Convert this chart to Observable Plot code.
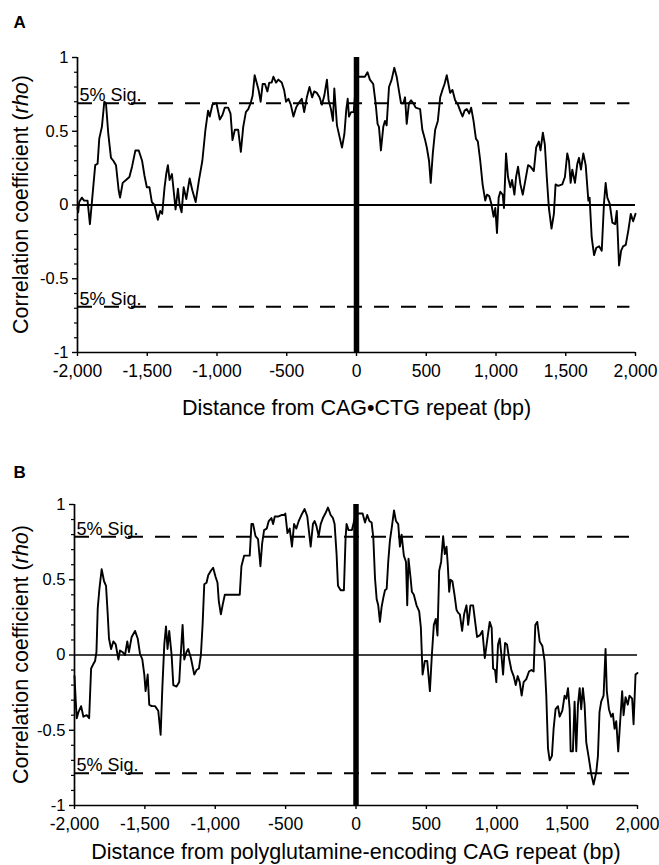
<!DOCTYPE html>
<html><head><meta charset="utf-8">
<script src="https://cdn.jsdelivr.net/npm/d3@7"></script>
<script src="https://cdn.jsdelivr.net/npm/@observablehq/plot@0.6"></script>
<style>
body{margin:0;background:#fff;width:659px;height:865px;overflow:hidden;font-family:"Liberation Sans",Arial,sans-serif}
#chart svg{display:block}
</style></head><body><div id="chart"></div>
<script>
const xTicks=[-2000,-1500,-1000,-500,0,500,1000,1500,2000];
const xTickLabels=["-2,000","-1,500","-1,000","-500","0","500","1,000","1,500","2,000"];
const yTicks=[-1,-0.5,0,0.5,1];
const yTickLabels=["-1","-0.5","0","0.5","1"];
const yMinorTicks=[-0.9,-0.8,-0.7,-0.6,-0.4,-0.3,-0.2,-0.1,0.1,0.2,0.3,0.4,0.6,0.7,0.8,0.9];
const sigLabel="5% Sig.";
const yTitle=["Correlation coefficient (","rho",")"];
const titleA="Distance from CAG\u2022CTG repeat (bp)";
const titleB="Distance from polyglutamine-encoding CAG repeat (bp)";
const sigA=0.69, sigB=0.785;

const seriesA=[[-2000,-0.02],[-1995,-0.05],[-1988,0.02],[-1969,0.05],[-1952,0.03],[-1928,0.03],[-1911,-0.13],[-1892,0.07],[-1873,0.27],[-1856,0.28],[-1844,0.45],[-1825,0.53],[-1808,0.70],[-1796,0.69],[-1779,0.48],[-1760,0.32],[-1743,0.30],[-1724,0.27],[-1705,0.10],[-1695,0.05],[-1676,0.15],[-1652,0.17],[-1628,0.19],[-1609,0.26],[-1585,0.37],[-1561,0.37],[-1537,0.30],[-1520,0.20],[-1503,0.12],[-1484,0.12],[-1467,0.02],[-1448,0.00],[-1424,-0.10],[-1407,-0.04],[-1393,-0.06],[-1376,0.12],[-1364,0.21],[-1352,0.27],[-1340,0.17],[-1323,0.21],[-1311,0.10],[-1297,-0.03],[-1280,0.11],[-1268,0.00],[-1254,-0.05],[-1239,0.12],[-1220,0.04],[-1196,0.18],[-1177,0.10],[-1153,0.02],[-1129,0.17],[-1105,0.30],[-1083,0.51],[-1064,0.64],[-1052,0.60],[-1033,0.68],[-1004,0.69],[-980,0.58],[-961,0.61],[-944,0.66],[-920,0.66],[-903,0.62],[-889,0.44],[-872,0.51],[-848,0.51],[-829,0.36],[-812,0.53],[-793,0.63],[-776,0.65],[-759,0.69],[-745,0.74],[-730,0.88],[-716,0.83],[-702,0.78],[-687,0.70],[-673,0.82],[-656,0.82],[-639,0.77],[-625,0.83],[-608,0.83],[-596,0.87],[-577,0.83],[-560,0.85],[-536,0.83],[-519,0.78],[-505,0.70],[-488,0.72],[-471,0.68],[-452,0.60],[-433,0.66],[-416,0.69],[-392,0.72],[-375,0.63],[-356,0.73],[-337,0.80],[-318,0.73],[-303,0.77],[-284,0.76],[-265,0.73],[-248,0.68],[-231,0.74],[-212,0.85],[-200,0.71],[-183,0.65],[-169,0.57],[-159,0.79],[-140,0.54],[-121,0.46],[-104,0.39],[-87,0.48],[-73,0.65],[-63,0.72],[-54,0.60],[-39,0.63],[-20,0.63],
[0,0.87],[24,0.87],[60,0.87],[79,0.90],[96,0.85],[120,0.82],[137,0.69],[151,0.55],[161,0.53],[175,0.37],[192,0.53],[204,0.57],[216,0.54],[233,0.80],[252,0.85],[271,0.93],[288,0.87],[305,0.77],[319,0.69],[336,0.69],[348,0.73],[360,0.55],[376,0.69],[391,0.71],[408,0.69],[424,0.66],[456,0.65],[472,0.51],[492,0.44],[504,0.39],[520,0.30],[532,0.15],[547,0.35],[564,0.51],[583,0.57],[600,0.73],[616,0.78],[631,0.82],[647,0.88],[659,0.82],[671,0.76],[688,0.78],[707,0.71],[727,0.68],[743,0.64],[760,0.60],[775,0.64],[791,0.65],[808,0.62],[822,0.66],[839,0.57],[856,0.45],[870,0.43],[887,0.30],[904,0.14],[923,0.03],[935,0.07],[952,0.06],[966,0.01],[983,-0.08],[995,-0.02],[1007,-0.19],[1019,0.05],[1031,0.09],[1048,0.07],[1057,-0.02],[1072,0.35],[1086,0.19],[1103,0.12],[1115,0.17],[1132,0.07],[1144,0.19],[1158,0.26],[1175,0.14],[1192,0.07],[1211,0.17],[1230,0.27],[1247,0.26],[1271,0.23],[1288,0.39],[1307,0.43],[1319,0.37],[1336,0.49],[1350,0.41],[1364,0.19],[1379,-0.02],[1398,-0.16],[1415,-0.06],[1427,0.14],[1446,0.13],[1475,0.14],[1494,0.19],[1511,0.35],[1523,0.30],[1535,0.15],[1547,0.24],[1566,0.15],[1583,0.28],[1595,0.32],[1609,0.24],[1626,0.35],[1643,0.27],[1662,0.03],[1671,0.05],[1686,-0.22],[1703,-0.34],[1719,-0.29],[1739,-0.28],[1758,-0.31],[1774,0.01],[1786,0.15],[1798,0.05],[1815,0.01],[1834,-0.12],[1854,-0.13],[1866,-0.04],[1882,-0.41],[1897,-0.31],[1911,-0.28],[1930,-0.27],[1949,-0.17],[1966,-0.06],[1983,-0.11],[2000,-0.06]];

const seriesB=[[-2000,-0.14],[-1991,-0.31],[-1984,-0.42],[-1972,-0.38],[-1953,-0.34],[-1937,-0.41],[-1913,-0.40],[-1896,-0.42],[-1882,-0.09],[-1866,-0.06],[-1854,-0.04],[-1844,0.02],[-1835,0.31],[-1823,0.44],[-1807,0.57],[-1790,0.49],[-1776,0.46],[-1764,0.27],[-1755,0.11],[-1740,0.04],[-1724,0.09],[-1707,0.07],[-1688,-0.03],[-1677,0.03],[-1660,0.02],[-1641,0.00],[-1625,0.09],[-1613,0.02],[-1594,0.12],[-1570,0.16],[-1551,0.11],[-1535,0.01],[-1518,-0.03],[-1504,-0.13],[-1495,-0.24],[-1480,-0.13],[-1469,-0.33],[-1452,-0.34],[-1428,-0.34],[-1405,-0.37],[-1388,-0.53],[-1376,-0.22],[-1362,0.07],[-1350,0.19],[-1339,0.04],[-1327,0.16],[-1310,0.00],[-1298,-0.20],[-1275,-0.21],[-1256,-0.18],[-1244,0.02],[-1232,0.20],[-1220,-0.03],[-1204,0.02],[-1192,0.04],[-1173,-0.02],[-1149,-0.13],[-1133,-0.10],[-1116,-0.09],[-1102,0.00],[-1090,0.20],[-1078,0.47],[-1062,0.48],[-1050,0.53],[-1031,0.56],[-1015,0.58],[-998,0.52],[-984,0.48],[-975,0.36],[-960,0.27],[-948,0.33],[-932,0.40],[-885,0.40],[-826,0.40],[-814,0.59],[-795,0.66],[-755,0.66],[-743,0.87],[-731,0.87],[-714,0.79],[-696,0.77],[-679,0.59],[-667,0.74],[-653,0.83],[-634,0.84],[-620,0.89],[-601,0.91],[-589,0.87],[-577,0.92],[-554,0.92],[-530,0.93],[-511,0.93],[-502,0.94],[-487,0.81],[-471,0.84],[-455,0.72],[-440,0.87],[-424,0.84],[-407,0.89],[-388,0.93],[-365,0.97],[-346,0.92],[-334,0.82],[-322,0.72],[-306,0.87],[-294,0.89],[-282,0.86],[-265,0.79],[-251,0.87],[-235,0.91],[-218,0.94],[-199,0.98],[-180,0.93],[-164,0.91],[-152,0.87],[-138,0.67],[-128,0.46],[-109,0.43],[-86,0.43],[-74,0.78],[-67,0.87],[-53,0.83],[-29,0.83],
[0,0.94],[24,0.94],[47,0.94],[64,0.88],[80,0.93],[95,0.89],[111,0.88],[123,0.78],[135,0.51],[147,0.37],[158,0.33],[170,0.22],[182,0.32],[194,0.38],[206,0.43],[218,0.44],[229,0.62],[241,0.76],[253,0.84],[270,0.96],[284,0.89],[300,0.87],[312,0.72],[324,0.80],[340,0.66],[355,0.62],[364,0.33],[373,0.64],[388,0.51],[397,0.42],[411,0.40],[430,0.33],[449,0.29],[461,0.18],[473,-0.13],[489,-0.04],[506,-0.04],[525,-0.24],[539,0.00],[553,0.20],[567,0.24],[579,0.13],[591,0.56],[605,0.62],[619,0.79],[631,0.67],[643,0.72],[652,0.60],[662,0.42],[671,0.50],[685,0.49],[700,0.40],[714,0.30],[726,0.28],[738,0.27],[754,0.16],[768,0.27],[785,0.33],[797,0.20],[813,0.33],[832,0.33],[844,0.24],[860,0.12],[879,0.13],[898,0.16],[915,-0.02],[931,0.09],[950,0.22],[964,0.18],[974,-0.09],[988,-0.10],[997,-0.18],[1009,0.07],[1021,0.11],[1033,0.00],[1045,-0.13],[1059,0.08],[1073,0.07],[1087,-0.02],[1104,-0.10],[1120,-0.14],[1135,-0.20],[1149,-0.14],[1163,-0.18],[1177,-0.27],[1191,-0.18],[1210,-0.16],[1229,-0.11],[1246,-0.10],[1262,-0.11],[1274,0.20],[1288,0.22],[1305,0.09],[1324,0.06],[1340,-0.04],[1352,-0.27],[1364,-0.62],[1376,-0.70],[1392,-0.67],[1404,-0.49],[1418,-0.36],[1435,-0.34],[1447,-0.41],[1466,-0.37],[1482,-0.27],[1494,-0.29],[1506,-0.22],[1518,-0.36],[1525,-0.64],[1541,-0.64],[1553,-0.31],[1565,-0.64],[1577,-0.33],[1589,-0.22],[1600,-0.36],[1612,-0.22],[1624,-0.33],[1636,-0.58],[1655,-0.69],[1671,-0.79],[1688,-0.86],[1707,-0.78],[1719,-0.67],[1730,-0.38],[1742,-0.31],[1759,-0.27],[1773,0.04],[1782,-0.24],[1797,-0.36],[1813,-0.41],[1825,-0.39],[1837,-0.49],[1849,-0.44],[1863,-0.64],[1877,-0.44],[1891,-0.24],[1901,-0.40],[1915,-0.28],[1931,-0.33],[1943,-0.27],[1962,-0.29],[1972,-0.46],[1986,-0.13],[2000,-0.12]];

const FONT='"Liberation Sans", Arial, Helvetica, sans-serif';

function panel(o){
  const p = Plot.plot({
    width:659, height:o.height,
    marginTop:o.mt, marginBottom:o.mb, marginLeft:o.ml, marginRight:o.mr,
    x:{domain:[-2000,2000]},
    y:{domain:[-1,1]},
    style:{fontFamily:FONT, color:"#000", background:"#fff", overflow:"visible"},
    marks:[
      Plot.axisY({ticks:yMinorTicks, tickSize:3, tickFormat:()=>"", label:null, strokeWidth:1.2}),
      Plot.axisY({ticks:yTicks, tickSize:5, tickPadding:4, tickFormat:d=>yTickLabels[yTicks.indexOf(d)], label:null, fontSize:16.5, strokeWidth:1.4}),
      Plot.axisX({ticks:xTicks, tickSize:4, tickPadding:o.xpad, tickFormat:d=>xTickLabels[xTicks.indexOf(d)], label:null, fontSize:17.5, strokeWidth:1.4}),
      Plot.ruleX([-2000],{y1:-1,y2:1,strokeWidth:1.7}),
      Plot.ruleY([-1],{x1:-2000,x2:2000,strokeWidth:1.7}),
      Plot.ruleY([0],{x1:-2000,x2:2000,strokeWidth:o.zw}),
      Plot.ruleY([o.sig,-o.sig],{x1:-2000,x2:1960,strokeWidth:2,strokeDasharray:"15,12"}),
      Plot.line(o.data,{x:d=>d[0],y:d=>d[1],strokeWidth:1.9,strokeLinejoin:"round"}),
      Plot.ruleX([0],{y1:-1,y2:1,strokeWidth:5.5}),
      Plot.text([o.sig,-o.sig],{x:()=>-2000,y:d=>d,text:()=>sigLabel,textAnchor:"start",lineAnchor:"middle",dx:2,dy:-7.5,fontSize:18}),
      Plot.text([o.title],{text:d=>d,frameAnchor:"bottom",dy:o.tdy,lineAnchor:"middle",fontSize:21.5}),
      Plot.text([o.letter],{text:d=>d,frameAnchor:"top-left",textAnchor:"start",lineAnchor:"middle",dx:o.ldx,dy:o.ldy,fontSize:17,fontWeight:"bold"})
    ]
  });
  const y0 = p.scale("y").apply(0);
  const t = d3.select(p).append("text")
    .attr("transform",`translate(28,${y0}) rotate(-90)`)
    .attr("text-anchor","middle")
    .attr("font-size",21.5)
    .attr("font-family",FONT)
    .attr("fill","#000");
  t.append("tspan").text(yTitle[0]);
  t.append("tspan").attr("font-style","italic").text(yTitle[1]);
  t.append("tspan").text(yTitle[2]);
  return p;
}

const chart=document.getElementById("chart");
chart.appendChild(panel({data:seriesA,sig:sigA,title:titleA,letter:"A",height:430,mt:57,mb:78,ml:77,mr:24,zw:1.8,tdy:55.5,ldx:-64,ldy:-34.5,xpad:8.5}));
chart.appendChild(panel({data:seriesB,sig:sigB,title:titleB,letter:"B",height:435,mt:74,mb:60,ml:74,mr:22,zw:1.3,tdy:46.5,ldx:-61,ldy:-31.5,xpad:8.5}));
</script></body></html>
